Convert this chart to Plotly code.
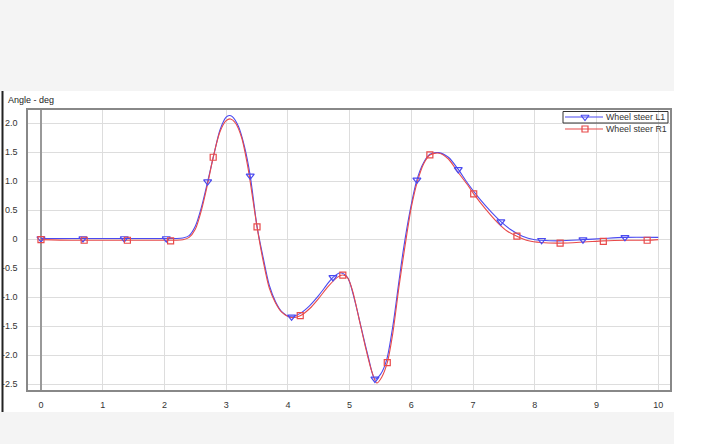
import plotly.graph_objects as go

# ---- data ----
t_l1 = [0, 0.5, 1.0, 1.5, 2.0, 2.2, 2.3, 2.4, 2.5, 2.6, 2.7, 2.8, 2.9, 3.0, 3.05, 3.1, 3.2, 3.3,
        3.39, 3.5, 3.6, 3.7, 3.8, 3.9, 4.05, 4.2, 4.35, 4.5, 4.65, 4.73, 4.85, 4.95, 5.0, 5.1,
        5.2, 5.3, 5.41, 5.5, 5.6, 5.7, 5.8, 5.87, 5.97, 6.09, 6.2, 6.3, 6.44, 6.6, 6.76, 6.9,
        7.1, 7.3, 7.45, 7.6, 7.8, 8.0, 8.1, 8.4, 8.78, 9.1, 9.45, 10.0]
v_l1 = [0.01, 0.01, 0.01, 0.01, 0.01, 0.01, 0.02, 0.06, 0.22, 0.55, 0.99, 1.45, 1.88, 2.10, 2.13,
        2.11, 1.94, 1.58, 1.09, 0.22, -0.32, -0.8, -1.08, -1.25, -1.34, -1.28, -1.15, -0.97,
        -0.76, -0.66, -0.58, -0.64, -0.74, -1.13, -1.58, -2.02, -2.41, -2.33, -2.08, -1.5,
        -0.72, -0.19, 0.44, 1.02, 1.32, 1.46, 1.49, 1.41, 1.20, 0.98, 0.70, 0.46, 0.30, 0.17,
        0.05, -0.01, -0.02, -0.03, -0.01, 0.01, 0.03, 0.03]

t_r1 = [0, 0.5, 1.0, 1.5, 2.0, 2.2, 2.3, 2.4, 2.5, 2.6, 2.7, 2.79, 2.9, 3.0, 3.07, 3.15, 3.25,
        3.35, 3.5, 3.6, 3.7, 3.8, 3.9, 4.05, 4.2, 4.35, 4.5, 4.65, 4.8, 4.89, 4.97, 5.05, 5.15,
        5.25, 5.35, 5.44, 5.52, 5.61, 5.7, 5.8, 5.9, 6.0, 6.1, 6.2, 6.3, 6.45, 6.6, 6.75, 6.9,
        7.01, 7.2, 7.4, 7.55, 7.71, 7.9, 8.1, 8.41, 8.8, 9.11, 9.5, 9.82, 10.0]
v_r1 = [-0.01, -0.02, -0.02, -0.02, -0.02, -0.02, -0.01, 0.03, 0.17, 0.5, 0.95, 1.41, 1.85,
        2.04, 2.07, 2.0, 1.75, 1.25, 0.21, -0.38, -0.85, -1.1, -1.26, -1.35, -1.32, -1.2,
        -1.02, -0.82, -0.66, -0.62, -0.67, -0.9, -1.36, -1.83, -2.25, -2.48, -2.38, -2.13,
        -1.62, -0.82, -0.1, 0.55, 1.0, 1.3, 1.45, 1.48, 1.38, 1.16, 0.95, 0.78, 0.52, 0.28,
        0.14, 0.05, -0.03, -0.06, -0.07, -0.05, -0.03, -0.02, -0.02, -0.01]

mk_t_l1 = [0, 0.68, 1.35, 2.03, 2.70, 3.39, 4.06, 4.73, 5.41, 6.09, 6.76, 7.45, 8.11, 8.78, 9.46]
mk_v_l1 = [0.01, 0.01, 0.01, 0.01, 0.99, 1.09, -1.34, -0.66, -2.41, 1.02, 1.20, 0.30, -0.02, -0.01, 0.03]
mk_t_r1 = [0, 0.70, 1.40, 2.10, 2.79, 3.50, 4.20, 4.89, 5.61, 6.30, 7.01, 7.71, 8.41, 9.11, 9.82]
mk_v_r1 = [-0.01, -0.02, -0.02, -0.03, 1.41, 0.21, -1.32, -0.62, -2.13, 1.45, 0.78, 0.05, -0.07, -0.04, -0.02]

x_ticks = [0, 1, 2, 3, 4, 5, 6, 7, 8, 9, 10]
y_ticks = [2.0, 1.5, 1.0, 0.5, 0, -0.5, -1.0, -1.5, -2.0, -2.5]
y_tick_text = ["2.0", "1.5", "1.0", "0.5", "0", "-0.5", "-1.0", "-1.5", "-2.0", "-2.5"]

names = ["Wheel steer L1", "Wheel steer R1"]
BLUE = "#4a4af0"
RED = "#e84a4a"

# ---- figure ----
W, H = 714, 444
L, R, T, B = 28, 670, 110, 390  # plot frame in pixels


def px(x):
    return (x - L) / (R - L)


def py(y):
    return (B - y) / (B - T)


fig = go.Figure()
for t, v, c in [(t_l1, v_l1, BLUE), (t_r1, v_r1, RED)]:
    fig.add_trace(go.Scatter(x=t, y=v, mode="lines", showlegend=False, hoverinfo="skip",
                             line=dict(color=c, width=1.1, shape="spline", smoothing=0.8)))
fig.add_trace(go.Scatter(x=mk_t_l1, y=mk_v_l1, mode="markers", showlegend=False, name=names[0],
                         marker=dict(symbol="triangle-down-open", size=7, color=BLUE,
                                     line=dict(width=1.2, color=BLUE))))
fig.add_trace(go.Scatter(x=mk_t_r1, y=mk_v_r1, mode="markers", showlegend=False, name=names[1],
                         marker=dict(symbol="square-open", size=6, color=RED,
                                     line=dict(width=1.2, color=RED))))

# manual legend (compact, like the reference) on a pixel-unit overlay axis
leg_y = [117, 129]
leg_sym = ["triangle-down-open", "square-open"]
leg_size = [7, 6]
leg_col = [BLUE, RED]
for i in range(2):
    fig.add_trace(go.Scatter(x=[565, 603], y=[leg_y[i], leg_y[i]], xaxis="x2", yaxis="y2",
                             mode="lines", showlegend=False, hoverinfo="skip",
                             line=dict(color=leg_col[i], width=1.1), cliponaxis=False))
    fig.add_trace(go.Scatter(x=[585], y=[leg_y[i]], xaxis="x2", yaxis="y2",
                             mode="markers", showlegend=False, hoverinfo="skip", cliponaxis=False,
                             marker=dict(symbol=leg_sym[i], size=leg_size[i], color=leg_col[i],
                                         line=dict(width=1.2, color=leg_col[i]))))

shapes = [
    # top and bottom grey bands
    dict(type="rect", xref="paper", yref="paper", x0=px(0), x1=px(674), y0=py(91), y1=py(0),
         fillcolor="#f4f4f4", line=dict(width=0), layer="below"),
    dict(type="rect", xref="paper", yref="paper", x0=px(0), x1=px(674), y0=py(444), y1=py(412),
         fillcolor="#f4f4f4", line=dict(width=0), layer="below"),
    # left dark border of panel
    dict(type="line", xref="paper", yref="paper", x0=px(2.5), x1=px(2.5), y0=py(412), y1=py(91),
         line=dict(color="#222222", width=2)),
    # focus box around the first legend item
    dict(type="rect", xref="paper", yref="paper", x0=px(563), x1=px(668), y0=py(123), y1=py(111.5),
         line=dict(color="#333333", width=1)),
]

annotations = [dict(text="Angle - deg", xref="paper", yref="paper", x=px(6), y=py(100),
                    xanchor="left", yanchor="middle", showarrow=False,
                    font=dict(size=9, color="#222222"))]
for i in range(2):
    annotations.append(dict(text=names[i], xref="paper", yref="paper", x=px(604), y=py(leg_y[i]),
                            xanchor="left", yanchor="middle", showarrow=False,
                            font=dict(size=8.8, color="#333333")))

fig.update_layout(
    width=W, height=H,
    margin=dict(l=L, r=W - R, t=T, b=H - B, pad=0, autoexpand=False),
    paper_bgcolor="white", plot_bgcolor="white",
    font=dict(family="Liberation Sans, Arial, sans-serif", size=9, color="#333333"),
    showlegend=False,
    shapes=shapes,
    annotations=annotations,
    xaxis2=dict(overlaying="x", range=[L, R], visible=False, fixedrange=True),
    yaxis2=dict(overlaying="y", range=[B, T], visible=False, fixedrange=True),
    xaxis=dict(range=[-0.21, 10.19], tickvals=x_ticks, ticktext=[str(v) for v in x_ticks],
               showgrid=True, gridcolor="#dddddd", gridwidth=1, automargin=False,
               zeroline=True, zerolinecolor="#999999", zerolinewidth=1.5,
               showline=True, linecolor="#888888", linewidth=1.5, mirror=True,
               ticks="outside", ticklen=5, tickcolor="rgba(0,0,0,0)"),
    yaxis=dict(range=[-2.60, 2.224], tickvals=y_ticks, ticktext=y_tick_text,
               showgrid=True, gridcolor="#dddddd", gridwidth=1, zeroline=False, automargin=False,
               showline=True, linecolor="#888888", linewidth=1.5, mirror=True,
               ticks="outside", ticklen=7, tickcolor="rgba(0,0,0,0)"),
)

fig.write_html("out.html", config={"displayModeBar": False},
               post_script="document.body.style.margin='0';")
